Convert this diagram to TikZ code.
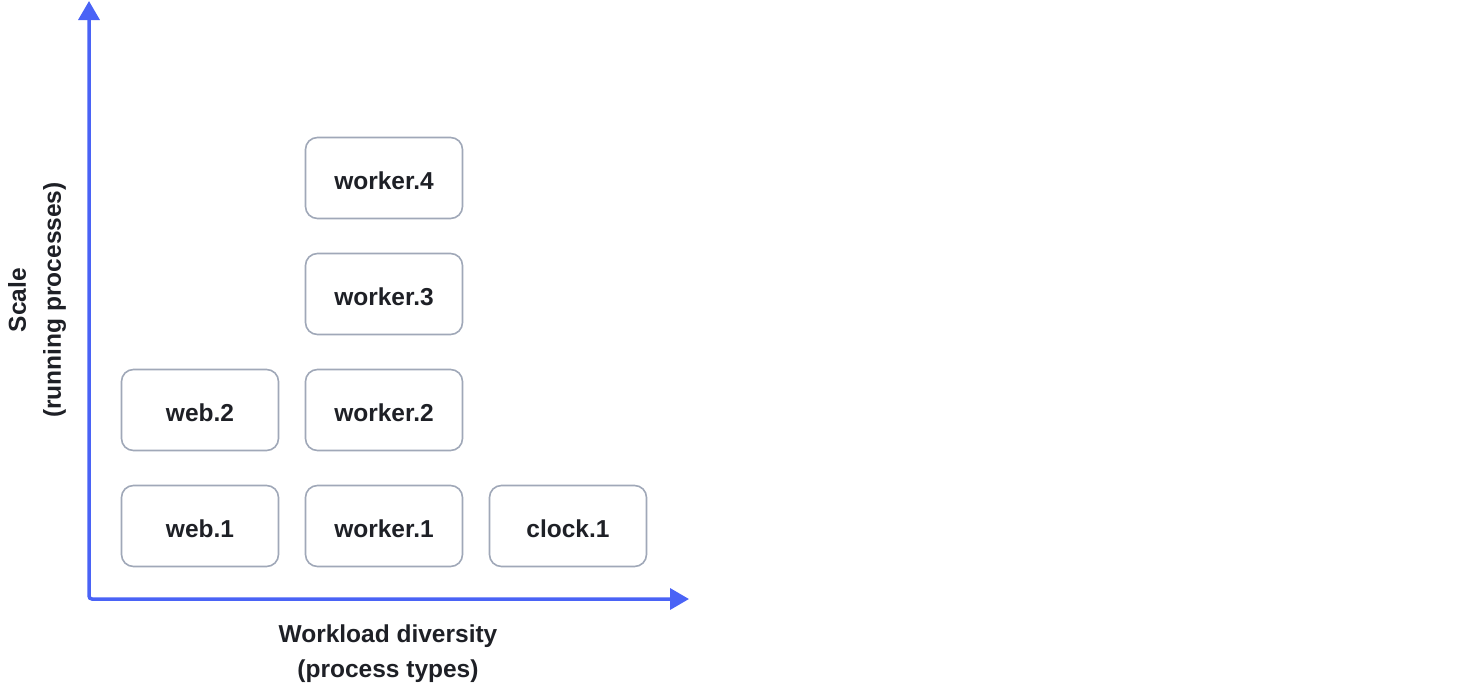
\documentclass[tikz,border=0pt]{standalone}
\usepackage{fontspec}
\setmainfont{Liberation Sans}
\usetikzlibrary{arrows.meta}
\definecolor{axisblue}{RGB}{74,99,246}
\definecolor{boxgray}{RGB}{160,168,184}
\definecolor{txt}{RGB}{30,32,38}
\tikzset{
  proc/.style={draw=boxgray, line width=1.6pt, rounded corners=12pt, minimum width=157pt, minimum height=81pt, inner sep=0pt, text height=23.6pt, text depth=0pt, text=txt, font=\fontsize{24.5}{28}\selectfont\bfseries},
  axis/.style={draw=axisblue, line width=3.5pt, {Triangle[length=19pt,width=21pt]}-{Triangle[length=19pt,width=21pt]}},
  axlabel/.style={text=txt, font=\fontsize{24.5}{35}\selectfont\bfseries, align=center}
}
\begin{document}
\begin{tikzpicture}[x=1pt,y=-1pt]
\useasboundingbox (0,0) rectangle (1472,688);
\coordinate (o) at (89,599);
\coordinate (ytip) at (89,1);
\coordinate (xtip) at (689,599);
\draw[axis, rounded corners=3pt] (ytip) -- (o) -- (xtip);
\node[proc] (w1) at (200,526) {web.1};
\node[proc] (w2) at (200,410) {web.2};
\node[proc] (k1) at (384,526) {worker.1};
\node[proc] (k2) at (384,410) {worker.2};
\node[proc] (k3) at (384,294) {worker.3};
\node[proc] (k4) at (384,178) {worker.4};
\node[proc] (c1) at (568,526) {clock.1};
\node[axlabel] (xl) at (388,654) {Workload diversity\\(process types)};
\node[axlabel, rotate=90] (yl) at (37,300) {Scale\\(running processes)};
\end{tikzpicture}
\end{document}
